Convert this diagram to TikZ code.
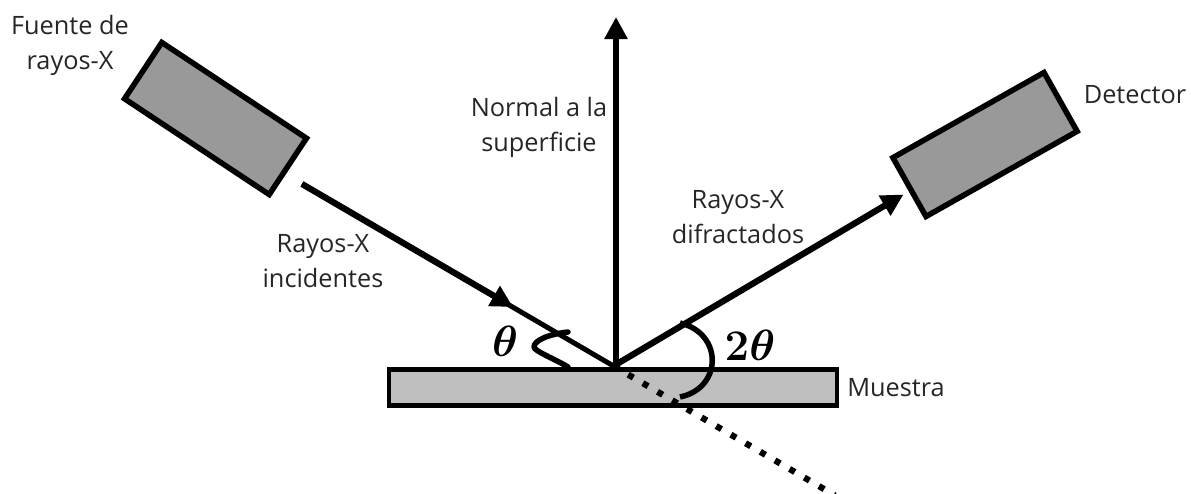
\documentclass[tikz,border=0pt]{standalone}
\usepackage{fontspec}
\setmainfont{Open Sans}
\usetikzlibrary{arrows.meta}
\tikzset{
	caja/.style={draw, line width=0.11cm, fill=gray!80!white, minimum width=3.47cm, minimum height=1.35cm, inner sep=0pt},
	rayo/.style={line width=0.11cm},
	flecha/.style={line width=0.125cm, -{Triangle[length=0.44cm,width=0.44cm]}},
	etiqueta/.style={font=\fontsize{14.4}{20}\selectfont, text=black!85, align=center, inner sep=0pt},
	angulo/.style={font=\fontsize{28}{28}\selectfont\boldmath, inner sep=0pt},
}
\begin{document}
\begin{tikzpicture}[scale=1]
	\useasboundingbox (0,0) rectangle (23.82,9.86);

	% Muestra
	\node[draw, line width=0.09cm, fill=black!25, minimum width=8.96cm, minimum height=0.72cm, inner sep=0pt] (muestra) at (12.26,2.11) {};

	% Fuente y detector
	\node[caja, rotate=-33.5] (fuente) at (4.31,7.49) {};
	\node[caja, rotate=29.4] (detector) at (19.7,6.97) {};

	% Puntos de los rayos
	\coordinate (centro) at (12.27,2.54);
	\coordinate (base) at (12.32,2.54);
	\coordinate (salida) at (6.04,6.18);
	\coordinate (medio) at (10.26,3.72);
	\coordinate (tope) at (12.32,9.52);
	\coordinate (llegada) at (18.07,5.97);
	\coordinate (fin) at (16.7,-0.05);

	% Rayos
	\draw[line width=0.1cm] (salida) -- (centro);
	\draw[flecha] (salida) -- (medio);
	\draw[flecha] (base) -- (tope);
	\draw[flecha] (centro) -- (llegada);
	\draw[line width=0.125cm, dash pattern=on 0.12cm off 0.22cm] (centro) -- (fin);

	% Angulos
	\coordinate (t1) at (11.36,3.22);
	\coordinate (t2) at (11.36,2.52);
	\coordinate (d1) at (13.6,3.4);
	\coordinate (d2) at (13.6,1.92);
	\draw[rayo, line cap=round, line join=round] (t1) .. controls (11.0,3.18) and (10.68,3.06) .. (10.68,2.92) .. controls (10.68,2.84) and (11.1,2.68) .. (t2);
	\draw[rayo] (d1) .. controls (14.46,3.2) and (14.46,2.1) .. (d2);

	% Etiquetas
	\node[etiqueta] (lfuente) at (1.4,8.96) {Fuente de\\rayos-X};
	\node[etiqueta] (ldetector) at (22.7,7.96) {Detector};
	\node[etiqueta] (lnormal) at (10.78,7.31) {Normal a la\\superficie};
	\node[etiqueta] (ldifr) at (14.76,5.51) {Rayos-X\\difractados};
	\node[etiqueta] (linc) at (6.46,4.63) {Rayos-X\\incidentes};
	\node[etiqueta] (lmuestra) at (17.92,2.1) {Muestra};
	\node[angulo] (ltheta) at (10.1,3.04) {$\theta$};
	\node[angulo] (ldos) at (15.0,2.96) {$2\theta$};
\end{tikzpicture}
\end{document}
